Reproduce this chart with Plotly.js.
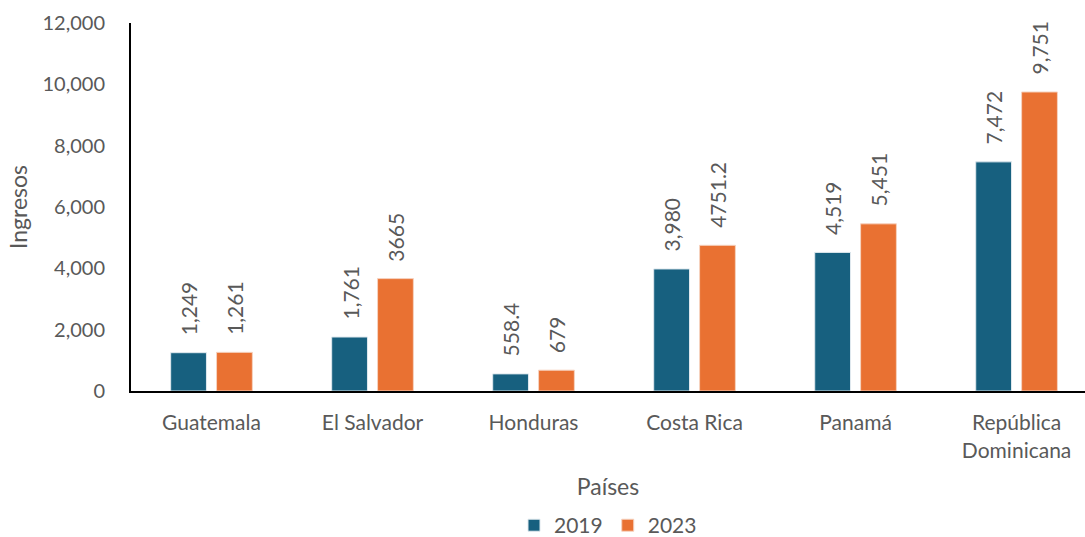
<!DOCTYPE html>
<html><head><meta charset="utf-8">
<script src="https://cdn.plot.ly/plotly-3.0.1.min.js"></script>
<style>html,body{margin:0;padding:0;background:#fff}</style>
</head><body><div id="chart" style="width:1085px;height:537px"></div>
<script>
const categories = ["Guatemala", "El Salvador", "Honduras", "Costa Rica", "Panamá", "República<br>Dominicana"];
const values2019 = [1249, 1761, 558.4, 3980, 4519, 7472];
const values2023 = [1261, 3665, 679, 4751.2, 5451, 9751];
const labels2019 = ["1,249", "1,761", "558.4", "3,980", "4,519", "7,472"];
const labels2023 = ["1,261", "3665", "679", "4751.2", "5,451", "9,751"];

const FONT = "Lato, 'Open Sans', sans-serif";
const TXT = "#595959";
const C19 = "#17607F", C23 = "#E97132";

const traces = [
  {type:"bar", name:"2019", x:categories, y:values2019, marker:{color:C19, line:{color:"#dfe8ee", width:1}}, hoverinfo:"y"},
  {type:"bar", name:"2023", x:categories, y:values2023, marker:{color:C23, line:{color:"#f6d3c0", width:1}}, hoverinfo:"y"}
];

const annotations = [];
categories.forEach((c,i)=>{
  annotations.push({x:c, y:values2019[i], xref:"x", yref:"y", text:labels2019[i], showarrow:false, textangle:-90, xanchor:"center", yanchor:"bottom", xshift:-23, yshift:15, font:{family:FONT, size:21, color:TXT}});
  annotations.push({x:c, y:values2023[i], xref:"x", yref:"y", text:labels2023[i], showarrow:false, textangle:-90, xanchor:"center", yanchor:"bottom", xshift:23, yshift:15, font:{family:FONT, size:21, color:TXT}});
});

const layout = {
  width:1085, height:537,
  margin:{l:131, r:0, t:23, b:146, autoexpand:false},
  paper_bgcolor:"#fff", plot_bgcolor:"#fff",
  font:{family:FONT, color:TXT, size:20},
  barmode:"group", bargap:0.43, bargroupgap:0.22,
  showlegend:true,
  legend:{orientation:"h", x:0.5, xanchor:"center", y:-0.31, yanchor:"top", font:{size:21, color:TXT}, traceorder:"normal", itemwidth:30},
  xaxis:{
    range:[-0.5, 5.425], showline:true, linecolor:"#000", linewidth:2, ticks:"", showgrid:false, zeroline:false,
    tickfont:{size:21, color:TXT}, ticklabelstandoff:12, automargin:false,
    title:{text:"Países", font:{size:23, color:TXT}, standoff:18}
  },
  yaxis:{
    range:[0,12000], dtick:2000, tickformat:",", showline:true, linecolor:"#000", linewidth:2, ticks:"", showgrid:false, zeroline:false,
    tickfont:{size:20, color:TXT}, ticklabelstandoff:20, automargin:false,
    title:{text:"Ingresos", font:{size:23, color:TXT}, standoff:8}
  },
  annotations: annotations
};
Plotly.newPlot("chart", traces, layout, {displayModeBar:false, staticPlot:true});
</script></body></html>
